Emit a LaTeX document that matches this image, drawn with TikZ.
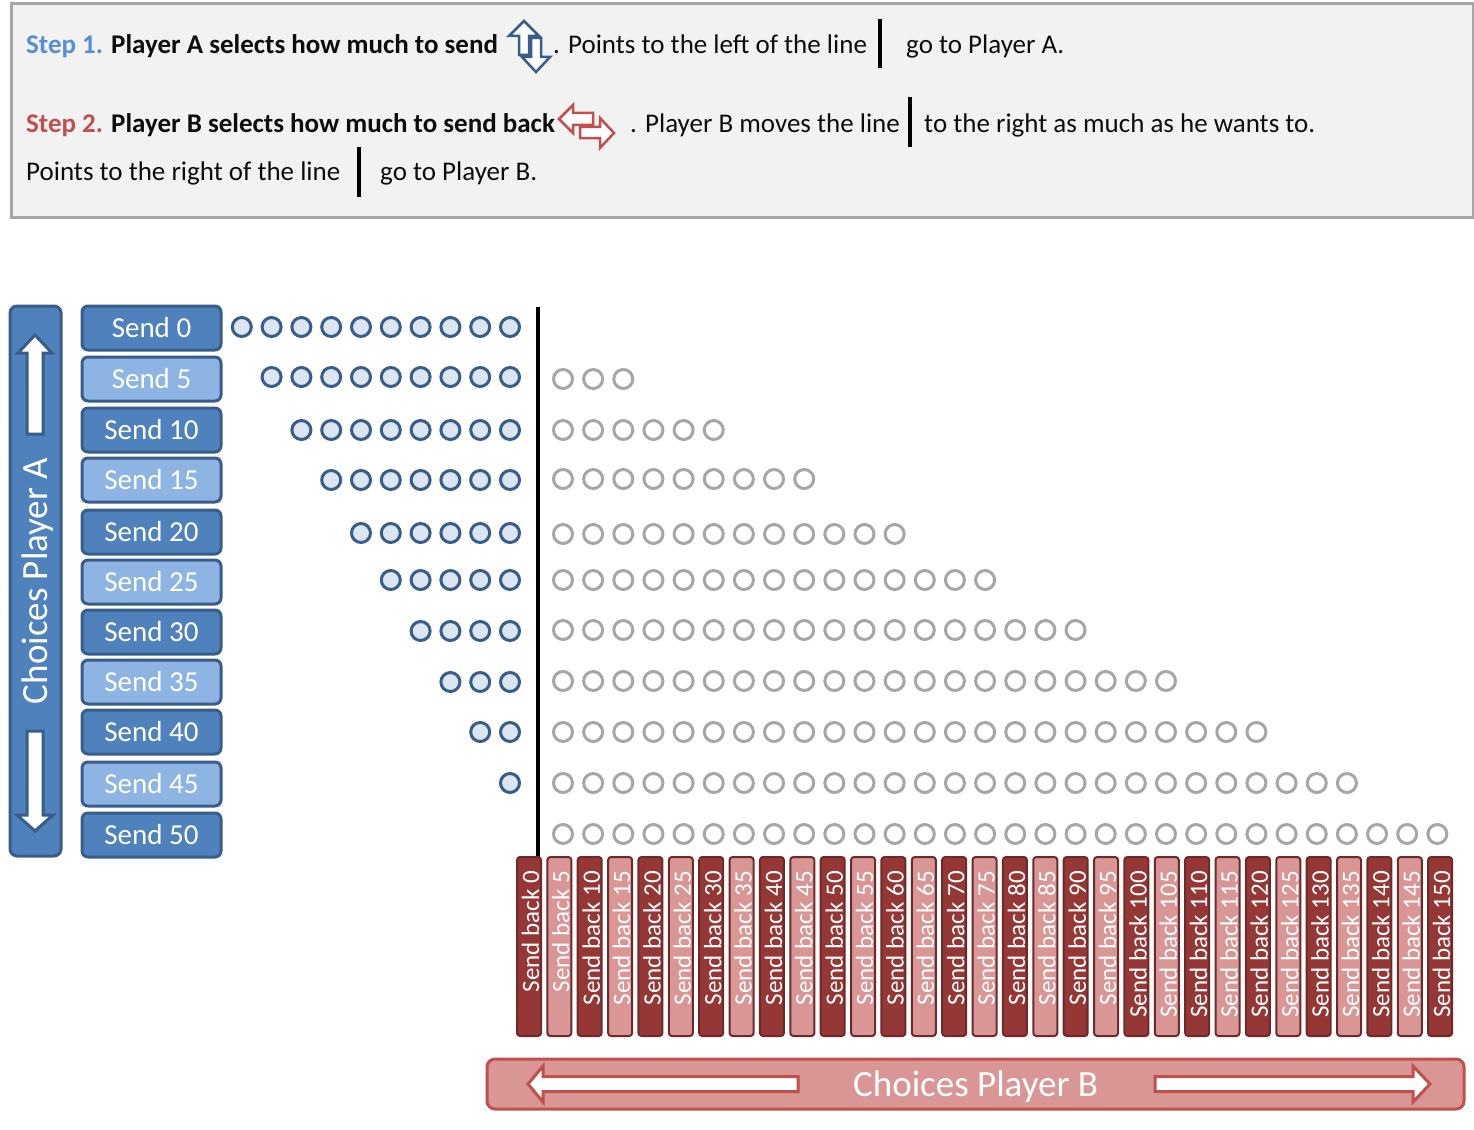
\documentclass[tikz,border=0pt]{standalone}
\usepackage{fontspec}
\setmainfont{Carlito}
\usetikzlibrary{calc}

\definecolor{hdrfill}{HTML}{F2F2F2}
\definecolor{hdrline}{HTML}{A6A6A6}
\definecolor{stepblue}{HTML}{558ED5}
\definecolor{stepred}{HTML}{C0504D}
\definecolor{bluedark}{HTML}{4F81BD}
\definecolor{bluelight}{HTML}{8EB4E3}
\definecolor{blueline}{HTML}{385D8A}
\definecolor{dotfill}{HTML}{DCE6F2}
\definecolor{dotgray}{HTML}{A6A6A6}
\definecolor{reddark}{HTML}{953735}
\definecolor{redlight}{HTML}{D99694}
\definecolor{redline}{HTML}{6E2A28}
\definecolor{redframe}{HTML}{C0504D}

\begin{document}
\begin{tikzpicture}[x=1pt,y=-1pt,
  htext/.style={anchor=base west,inner sep=0pt,font=\fontsize{27}{32}\selectfont,text=black!95},
  vbar/.style={line width=4.5pt,black},
  hdrbox/.style={draw=hdrline,fill=hdrfill,line width=3pt,inner sep=0pt},
  iconblue/.style={draw=blueline,fill=white,line width=2.5pt,line join=miter},
  iconred/.style={draw=redframe,fill=white,line width=2.5pt,line join=miter},
  bigblue/.style={draw=blueline,fill=white,line width=3pt,line join=miter},
  bigred/.style={draw=redframe,fill=white,line width=3pt,line join=miter},
  sendbox/.style={draw=blueline,line width=3pt,rounded corners=6pt,minimum width=139pt,minimum height=44pt,inner sep=0pt,text=white,font=\fontsize{29}{32}\selectfont},
  sdark/.style={sendbox,fill=bluedark},
  slight/.style={sendbox,fill=bluelight},
  bdot/.style={circle,draw=blueline,fill=dotfill,line width=3pt,minimum size=19pt,inner sep=0pt},
  gdot/.style={circle,draw=dotgray,fill=white,line width=3pt,minimum size=19pt,inner sep=0pt},
  backbar/.style={rotate=90,draw=redline,line width=2pt,rounded corners=3pt,minimum width=179pt,minimum height=24pt,inner sep=0pt},
  rdark/.style={backbar,fill=reddark},
  rlight/.style={backbar,fill=redlight},
  backtext/.style={rotate=90,anchor=east,inner sep=0pt,text=white,font=\fontsize{25}{28}\selectfont}
]
\useasboundingbox (0,0) rectangle (1474,1129);

% ---------- instructions panel ----------
\node[hdrbox,minimum width=1462pt,minimum height=214pt,anchor=north west] (header) at (10,2) {};

\node[htext] (l1a) at (26,54) {\textbf{\color{stepblue}Step 1.} \textbf{Player A selects how much to send}};
% up/down icon
\draw[iconblue] (524,21) -- (539,36) -- (529,36) -- (529,55) -- (519,55) -- (519,36) -- (509,36) -- cycle;
\draw[iconblue] (536,72) -- (550,57) -- (541,57) -- (541,38) -- (531,38) -- (531,57) -- (522,57) -- cycle;
\node[htext] (l1b) at (553,54) {. Points to the left of the line};
\draw[vbar] (880,19) -- (880,68);
\node[htext] (l1c) at (906,54) {go to Player A.};

\node[htext] (l2a) at (26,132) {\textbf{\color{stepred}Step 2.} \textbf{Player B selects how much to send back}};
% left/right icon
\draw[iconred] (559,119) -- (573,105) -- (573,113) -- (593,113) -- (593,125) -- (573,125) -- (573,133) -- cycle;
\draw[iconred] (614,133) -- (600,118) -- (600,127) -- (580,127) -- (580,138) -- (600,138) -- (600,148) -- cycle;
\node[htext] (l2b) at (630,132) {. Player B moves the line};
\draw[vbar] (910,97) -- (910,147);
\node[htext] (l2c) at (924,132) {to the right as much as he wants to.};

\node[htext] (l3a) at (26,180) {Points to the right of the line};
\draw[vbar] (359,147) -- (359,197);
\node[htext] (l3b) at (380,180) {go to Player B.};

% ---------- Player A axis ----------
\node[rotate=90,draw=blueline,fill=bluedark,line width=3pt,rounded corners=7pt,
      minimum width=550pt,minimum height=51pt,inner sep=0pt] (choiceA) at (35.5,581) {};
\node[rotate=90,inner sep=0pt,text=white,font=\fontsize{37}{40}\selectfont] (choiceAlbl) at (37.5,581) {Choices Player A};
\draw[bigblue] (35,335) -- (52,353) -- (43,353) -- (43,434) -- (27,434) -- (27,353) -- (18,353) -- cycle;
\draw[bigblue] (35,831) -- (53,815) -- (43,815) -- (43,731) -- (27,731) -- (27,815) -- (17,815) -- cycle;

\foreach \v/\y/\st in {0/328/sdark,5/379/slight,10/430/sdark,15/480/slight,20/532/sdark,
  25/582/slight,30/632/sdark,35/682/slight,40/732/sdark,45/784/slight,50/835/sdark}
  \node[\st] (send\v) at (151.5,\y) {Send \v};

% points kept by Player A
\foreach \y [count=\r from 0] in {327,377,430,480,533,580,631,682,732,783} {
  \pgfmathtruncatemacro\n{9-\r}
  \foreach \j in {0,...,\n}
    \node[bdot] (a\r-\j) at ({510-29.8*\j},\y) {};
}

% dividing line
\coordinate (divtop) at (538,307);
\coordinate (divbot) at (538,857);
\draw[line width=4pt,black] (divtop) -- (divbot);

% tripled points that Player B can send back
\foreach \y [count=\r] in {379,430,479,534,580,630,681,732,783,834} {
  \pgfmathtruncatemacro\n{3*\r-1}
  \foreach \j in {0,...,\n}
    \node[gdot] (g\r-\j) at ({563+30.15*\j},\y) {};
}

% ---------- Player B choices ----------
\foreach \i in {0,...,30} {
  \pgfmathtruncatemacro\v{5*\i}
  \pgfmathsetmacro\x{529+30.37*\i}
  \ifodd\i\def\st{rlight}\else\def\st{rdark}\fi
  \node[\st] (back\v) at (\x,946.5) {};
  \node[backtext] (backlbl\v) at (\x+1.5,871) {Send back \v};
}

\node[draw=redframe,fill=redlight,line width=3pt,rounded corners=8pt,
      minimum width=977pt,minimum height=50pt,inner sep=0pt] (choiceB) at (975.5,1084) {};
\node[inner sep=0pt,text=white,font=\fontsize{37}{40}\selectfont] (choiceBlbl) at (975.5,1086.5) {Choices Player B};
\draw[bigred] (528,1084) -- (543,1066) -- (543,1076.5) -- (798,1076.5) -- (798,1091.5) -- (543,1091.5) -- (543,1102) -- cycle;
\draw[bigred] (1430,1084) -- (1413,1066) -- (1413,1076.5) -- (1155,1076.5) -- (1155,1091.5) -- (1413,1091.5) -- (1413,1102) -- cycle;
\end{tikzpicture}
\end{document}
